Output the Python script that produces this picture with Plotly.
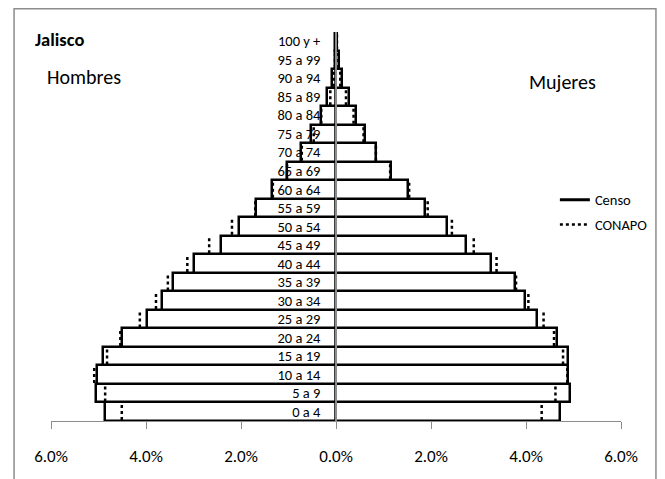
import plotly.graph_objects as go

grupos = ["0 a 4", "5 a 9", "10 a 14", "15 a 19", "20 a 24", "25 a 29", "30 a 34",
          "35 a 39", "40 a 44", "45 a 49", "50 a 54", "55 a 59", "60 a 64", "65 a 69",
          "70 a 74", "75 a 79", "80 a 84", "85 a 89", "90 a 94", "95 a 99", "100 y +"]

# porcentaje de la poblacion total
censo_hombres = [4.87, 5.06, 5.04, 4.91, 4.51, 3.97, 3.67, 3.44, 2.98, 2.42, 2.04,
                 1.69, 1.35, 1.04, 0.74, 0.52, 0.32, 0.19, 0.09, 0.03, 0.02]
censo_mujeres = [4.71, 4.92, 4.89, 4.88, 4.65, 4.23, 3.98, 3.77, 3.26, 2.74, 2.33,
                 1.88, 1.51, 1.15, 0.84, 0.62, 0.42, 0.27, 0.13, 0.06, 0.03]
conapo_hombres = [4.51, 4.86, 5.09, 4.82, 4.54, 4.13, 3.79, 3.54, 3.13, 2.67, 2.19,
                  1.70, 1.33, 1.03, 0.72, 0.47, 0.31, 0.12, 0.05, 0.02, 0.01]
conapo_mujeres = [4.33, 4.62, 4.87, 4.78, 4.59, 4.37, 4.05, 3.79, 3.38, 2.90, 2.44,
                  1.93, 1.54, 1.14, 0.84, 0.58, 0.37, 0.21, 0.09, 0.05, 0.02]

x_ticks = [-6, -4, -2, 0, 2, 4, 6]

FONT = "Carlito, Lato, sans-serif"

pos = list(range(len(grupos)))

fig = go.Figure()

# Censo: barras blancas con borde negro
fig.add_trace(go.Bar(
    y=pos, x=[-v for v in censo_hombres], orientation='h', width=1,
    marker=dict(color='white', line=dict(color='black', width=2.5)),
    showlegend=False, hoverinfo='skip'
))
fig.add_trace(go.Bar(
    y=pos, x=censo_mujeres, orientation='h', width=1,
    marker=dict(color='white', line=dict(color='black', width=2.5)),
    showlegend=False, hoverinfo='skip'
))

# CONAPO: borde punteado (solo el extremo de cada barra)
seg_x, seg_y = [], []
for i in pos:
    for v in (-conapo_hombres[i], conapo_mujeres[i]):
        seg_x += [v, v, None]
        seg_y += [i - 0.45, i + 0.45, None]

fig.add_trace(go.Scatter(
    x=[None], y=[None], mode='lines', name='Censo',
    line=dict(color='black', width=3), legendgroup='a'
))
fig.add_trace(go.Scatter(
    x=seg_x, y=seg_y, mode='lines', name='CONAPO',
    line=dict(color='black', width=2.5, dash='dot'), legendgroup='b',
    hoverinfo='skip'
))

fig.update_layout(
    width=665, height=479,
    margin=dict(l=51, r=43, t=32, b=52),
    barmode='overlay', bargap=0,
    plot_bgcolor='white', paper_bgcolor='white',
    font=dict(family=FONT, color='black'),
    xaxis=dict(
        range=[-6, 6], tickvals=x_ticks,
        ticktext=[f"{abs(t):.1f}%" for t in x_ticks],
        showgrid=False, zeroline=False,
        showline=True, linecolor='#8c8c8c', linewidth=1,
        ticks='outside', ticklen=7, tickcolor='#8c8c8c',
        tickfont=dict(size=17), ticklabelstandoff=13
    ),
    yaxis=dict(
        range=[-0.5, 20.5], tickvals=pos, ticktext=grupos,
        anchor='free', position=0.5,
        showgrid=False, zeroline=False,
        showline=True, linecolor='#8c8c8c', linewidth=1.5,
        ticks='', tickfont=dict(size=14.5), ticklabelstandoff=12
    ),
    legend=dict(
        x=0.884, y=0.61, xanchor='left', yanchor='top',
        font=dict(size=14.5), traceorder='grouped', tracegroupgap=3,
        bgcolor='rgba(0,0,0,0)', itemwidth=30
    ),
    shapes=[dict(
        type='rect', xref='paper', yref='paper',
        x0=-0.0648, x1=1.0613, y0=-0.3, y1=1.06,
        line=dict(color='#8c8c8c', width=1.5), fillcolor='rgba(0,0,0,0)',
        layer='above'
    )],
    annotations=[
        dict(text="<b>Jalisco</b>", x=-0.0315, y=0.982, xref='paper', yref='paper',
             xanchor='left', yanchor='middle', showarrow=False, font=dict(size=18.5)),
        dict(text="Hombres", x=0.0587, y=0.8835, xref='paper', yref='paper',
             xanchor='center', yanchor='middle', showarrow=False, font=dict(size=20)),
        dict(text="Mujeres", x=0.8967, y=0.871, xref='paper', yref='paper',
             xanchor='center', yanchor='middle', showarrow=False, font=dict(size=20)),
    ]
)

# quitar el margen por defecto del body para que la figura ocupe toda la ventana
fig.write_html("out.html", config={'displayModeBar': False},
               post_script="document.body.style.margin = '0';")
